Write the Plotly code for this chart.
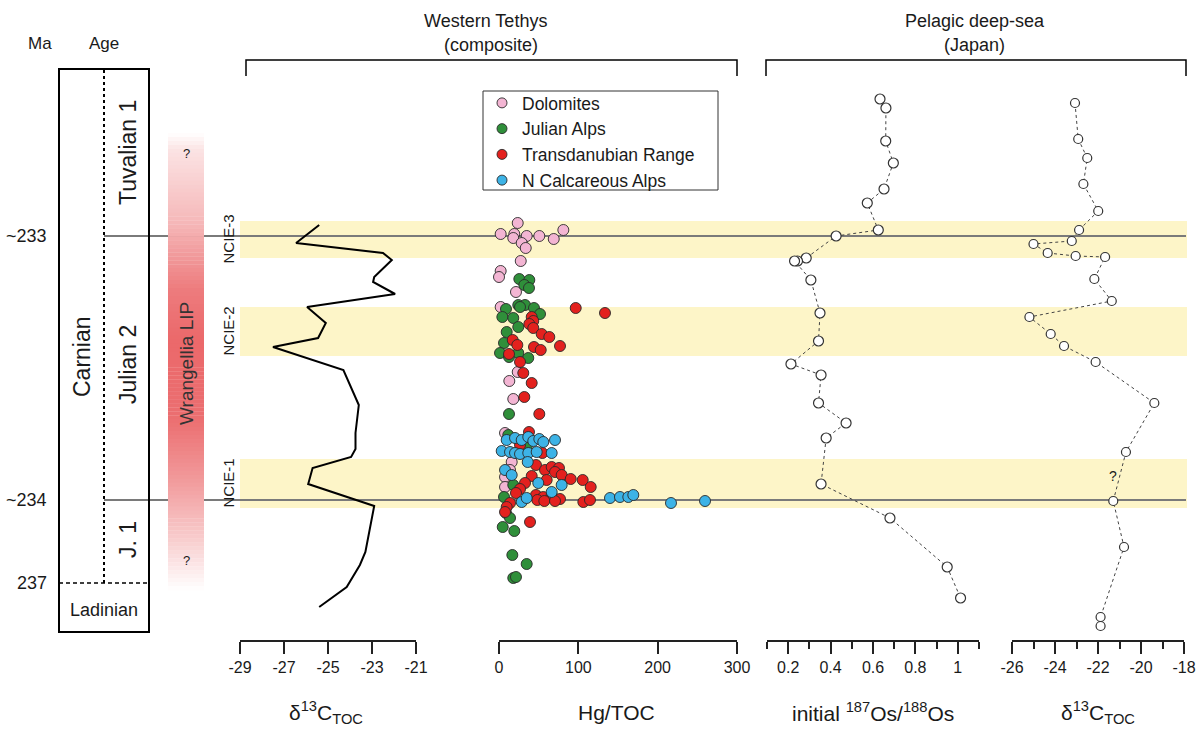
import plotly.graph_objects as go

W, H = 1204, 729

# ---------------- data ----------------
# common vertical scale: stratigraphic level (arbitrary units, 0 = base)
tethys_level = [415, 397, 387, 380, 363, 358, 346, 333, 317, 302, 293, 270, 235, 207,
                191, 183, 172, 156, 134, 88, 75, 53, 33]
tethys_d13c = [-25.4, -26.45, -22.5, -22.1, -22.9, -22.95, -21.95, -25.95, -25.1, -25.45,
               -27.5, -24.3, -23.6, -23.75, -23.75, -23.95, -25.7, -25.9, -22.9, -23.3,
               -23.55, -24.15, -25.4]

dolomites_hg = [23.6, 2.1, 19.3, 18.0, 34.9, 50.8, 81.1, 69.0, 28.6, 33.7, 27.4, 2.1, 0.0,
                21.4, 2.1, 23.6, 13.0, 18.0, 7.6, 16.0, 13.9, 7.6, 7.6]
dolomites_level = [417, 406, 406, 402, 404, 404, 410, 401, 397, 392, 379, 369, 363, 348,
                   333, 268, 259, 241, 207, 178, 170, 163, 153]

julian_hg = [25.6, 38.2, 31.9, 37.8, 24.3, 32.8, 26.5, 8.8, 44.1, 51.7, 4.2, 18.0, 24.3,
             9.7, 6.3, 1.3, 12.6, 24.3, 36.9, 12.6, 11.7, 34.9, 18.0, 6.3, 8.8, 13.9, 4.7,
             19.3, 16.8, 34.9, 18.0, 21.4]
julian_level = [361, 360, 355, 352, 335, 335, 333, 331, 332, 326, 323, 322, 313, 308, 297,
                287, 283, 287, 282, 226, 205, 193, 155, 143, 127, 122, 113, 109, 85, 76,
                62, 63]

transdanubian_hg = [96.7, 133.6, 41.2, 43.2, 38.2, 43.2, 53.8, 63.4, 76.9, 44.1, 52.6, 17.3,
                    23.1, 12.6, 26.5, 30.6, 41.2, 31.9, 50.8, 37.8, 26.5, 54.6, 46.6, 58.0,
                    66.4, 75.6, 70.6, 41.2, 60.1, 79.0, 90.4, 105.5, 115.6, 32.8, 26.5, 21.4,
                    46.6, 55.8, 66.4, 76.9, 48.3, 57.1, 70.6, 106.3, 114.7, 13.9, 9.7, 7.6,
                    39.1]
transdanubian_level = [332, 327, 323, 319, 316, 312, 306, 303, 294, 293, 290, 300, 295, 286,
                       278, 267, 257, 243, 226, 208, 195, 187, 175, 170, 173, 172, 168, 164,
                       160, 165, 161, 160, 153, 157, 151, 147, 145, 143, 145, 141, 140, 139,
                       139, 138, 140, 137, 133, 128, 118]

ncalc_hg = [9.7, 20.2, 28.6, 36.9, 43.2, 50.8, 55.8, 70.6, 3.4, 13.9, 20.2, 26.5, 36.9, 47.5,
            66.4, 36.2, 7.6, 16.0, 49.5, 79.0, 66.4, 28.6, 34.9, 139.9, 152.5, 163.0, 169.3,
            216.8, 259.7]
ncalc_level = [200, 202, 200, 203, 199, 201, 198, 200, 189, 188, 187, 186, 187, 188, 187, 178,
               170, 165, 157, 155, 148, 138, 142, 142, 143, 143, 145, 137, 139]

os_level = [541, 532, 499, 477, 451, 437, 410, 404, 382, 379, 379, 360, 327, 299, 276, 265,
            237, 217, 202, 156, 122, 73, 42]
os_ratio = [0.633, 0.661, 0.66, 0.696, 0.652, 0.573, 0.625, 0.426, 0.285, 0.244, 0.23, 0.307,
            0.35, 0.343, 0.213, 0.355, 0.343, 0.473, 0.379, 0.355, 0.68, 0.95, 1.013]

japan_level = [537, 501, 482, 456, 429, 410, 399, 396, 387, 384, 383, 361, 339, 323, 306, 294,
               278, 237, 188, 139, 93, 23, 14]
japan_d13c = [-23.07, -22.92, -22.5, -22.68, -21.99, -22.88, -23.22, -25.0, -24.34, -23.04,
              -21.67, -22.17, -21.36, -25.19, -24.2, -23.58, -22.11, -19.38, -20.7, -21.29,
              -20.79, -21.88, -21.88]

age_labels = ["~233", "~234", "237"]
age_levels = [404, 140, 57]

ncie_names = ["NCIE-3", "NCIE-2", "NCIE-1"]
ncie_top = [419, 333, 181]
ncie_base = [382, 284, 132]

stage_names = ["Tuvalian 1", "Julian 2", "J. 1"]
stage_centers = [487, 275, 100]

tethys_ticks = [-29, -27, -25, -23, -21]
hg_ticks = [0, 100, 200, 300]
os_ticks = [0.2, 0.4, 0.6, 0.8, 1.0]
os_ticktext = ["0.2", "0.4", "0.6", "0.8", "1"]
japan_ticks = [-26, -24, -22, -20, -18]

# ---------------- helpers (layout positions) ----------------
FONT = "Liberation Sans, Arial, sans-serif"
TXT = "#1a1a1a"


def fx(p):
    return p / W


def fy(p):
    return 1 - p / H


def hyphen(vals):
    return [str(v) for v in vals]


Y_RANGE = [-89, 640]
AXIS_POS = fy(641)

fig = go.Figure()

# Western Tethys d13C
fig.add_trace(go.Scatter(x=tethys_d13c, y=tethys_level, mode="lines",
                         line=dict(color="black", width=2), xaxis="x", yaxis="y",
                         showlegend=False, hoverinfo="skip"))

# Hg/TOC scatter
groups = [
    ("Dolomites", dolomites_hg, dolomites_level, "#f3b5d3"),
    ("Julian Alps", julian_hg, julian_level, "#2f8f3a"),
    ("Transdanubian Range", transdanubian_hg, transdanubian_level, "#e3211e"),
    ("N Calcareous Alps", ncalc_hg, ncalc_level, "#3db3e6"),
]
for name, xs, ys, col in groups:
    fig.add_trace(go.Scatter(x=xs, y=ys, mode="markers", name=name, xaxis="x2", yaxis="y",
                             cliponaxis=False, showlegend=False, legendgroup=name,
                             marker=dict(size=11, color=col, line=dict(color="#2a2a2a", width=0.9))))
# legend entries (smaller symbols, as in the reference legend)
for name, xs, ys, col in groups:
    fig.add_trace(go.Scatter(x=[None], y=[None], mode="markers", name=name, xaxis="x2",
                             yaxis="y", legendgroup=name, showlegend=True,
                             marker=dict(size=10, color=col, line=dict(color="#2a2a2a", width=0.9))))

# Os isotopes
fig.add_trace(go.Scatter(x=os_ratio, y=os_level, mode="lines+markers", xaxis="x3", yaxis="y",
                         cliponaxis=False, showlegend=False,
                         line=dict(color="#444", width=1, dash="3px,3px"),
                         marker=dict(size=10, color="white", line=dict(color="#333", width=1.2))))

# Japan d13C
fig.add_trace(go.Scatter(x=japan_d13c, y=japan_level, mode="lines+markers", xaxis="x4", yaxis="y",
                         cliponaxis=False, showlegend=False,
                         line=dict(color="#444", width=1, dash="3px,3px"),
                         marker=dict(size=9, color="white", line=dict(color="#333", width=1.2))))

axis_common = dict(anchor="free", position=AXIS_POS, showline=True, linecolor="#222",
                   linewidth=1.5, ticks="outside", ticklen=12, tickwidth=1.5, tickcolor="#222",
                   showgrid=False, zeroline=False, automargin=False,
                   tickfont=dict(family=FONT, size=16, color=TXT))

fig.update_layout(
    template="none",
    width=W, height=H, autosize=False,
    margin=dict(l=0, r=0, t=0, b=0, pad=0, autoexpand=False),
    paper_bgcolor="white", plot_bgcolor="rgba(0,0,0,0)",
    font=dict(family=FONT, color=TXT),
    yaxis=dict(domain=[0, 1], range=Y_RANGE, visible=False, fixedrange=True, automargin=False),
    xaxis=dict(domain=[fx(240), fx(416)], range=[-29, -21], tickvals=tethys_ticks,
               ticktext=hyphen(tethys_ticks), **axis_common),
    xaxis2=dict(domain=[fx(499), fx(737)], range=[0, 300], tickvals=hg_ticks,
                ticktext=hyphen(hg_ticks), **axis_common),
    xaxis3=dict(domain=[fx(767), fx(979)], range=[0.1, 1.1], tickvals=os_ticks,
                ticktext=os_ticktext,
                minor=dict(tickvals=[0.1, 0.3, 0.5, 0.7, 0.9, 1.1], ticklen=7, tickwidth=1.5,
                           tickcolor="#222", ticks="outside", showgrid=False),
                **axis_common),
    xaxis4=dict(domain=[fx(1012), fx(1184)], range=[-26, -18], tickvals=japan_ticks,
                ticktext=hyphen(japan_ticks),
                minor=dict(tickvals=[-25, -23, -21, -19], ticklen=7, tickwidth=1.5,
                           tickcolor="#222", ticks="outside", showgrid=False),
                **axis_common),
    legend=dict(x=fx(482), y=fy(85), xanchor="left", yanchor="top",
                bgcolor="rgba(0,0,0,0)", borderwidth=0, tracegroupgap=0,
                font=dict(family=FONT, size=17.5, color=TXT), itemsizing="trace"),
    showlegend=True,
)

shapes = []
# NCIE bands
for top, base in zip(ncie_top, ncie_base):
    shapes.append(dict(type="rect", xref="paper", yref="y", x0=fx(240), x1=fx(1187),
                       y0=base, y1=top, fillcolor="#fdf5c8", line=dict(width=0), layer="below"))
# age lines (~233, ~234)
for lv in age_levels[:2]:
    shapes.append(dict(type="line", xref="paper", yref="y", x0=fx(104), x1=fx(1186),
                       y0=lv, y1=lv, line=dict(color="#7a7a7a", width=1.8), layer="below"))


# Wrangellia LIP gradient bar
def lip_intensity(p):
    stops = [(133, 0.0), (150, 0.18), (220, 0.45), (290, 0.85), (340, 0.97), (420, 0.93),
             (480, 0.65), (540, 0.32), (590, 0.0)]
    for (a, ia), (b, ib) in zip(stops[:-1], stops[1:]):
        if a <= p <= b:
            return ia + (ib - ia) * (p - a) / (b - a)
    return 0.0


base_rgb = (234, 100, 102)
n_sl = 115
top_px, bot_px = 133, 590
step = (bot_px - top_px) / n_sl
for i in range(n_sl):
    p0 = top_px + i * step
    t = lip_intensity(p0 + step / 2)
    r, g, b = [round(255 + (c - 255) * t) for c in base_rgb]
    shapes.append(dict(type="rect", xref="paper", yref="paper", x0=fx(168), x1=fx(204),
                       y0=fy(p0 + step + 0.4), y1=fy(p0), fillcolor=f"rgb({r},{g},{b})",
                       line=dict(width=0), layer="below"))

# Age column box
shapes.append(dict(type="rect", xref="paper", yref="paper", x0=fx(59), x1=fx(149),
                   y0=fy(632), y1=fy(69), line=dict(color="black", width=2)))
shapes.append(dict(type="line", xref="paper", yref="paper", x0=fx(104), x1=fx(104),
                   y0=fy(583), y1=fy(69), line=dict(color="black", width=2, dash="dot")))
shapes.append(dict(type="line", xref="paper", yref="y", x0=fx(59), x1=fx(149),
                   y0=age_levels[2], y1=age_levels[2],
                   line=dict(color="black", width=1.5, dash="4px,3px")))

# header brackets
for x0, x1 in [(246, 737), (766, 1186)]:
    shapes.append(dict(type="path", xref="paper", yref="paper",
                       path=f"M {fx(x0)} {fy(76)} L {fx(x0)} {fy(60)} L {fx(x1)} {fy(60)} L {fx(x1)} {fy(76)}",
                       line=dict(color="black", width=1.5)))

# legend box
shapes.append(dict(type="rect", xref="paper", yref="paper", x0=fx(483), x1=fx(718),
                   y0=fy(190), y1=fy(91), line=dict(color="#333", width=1)))

fig.update_layout(shapes=shapes)

ann = []


def text(x, y, s, size, yref="paper", angle=0, color=TXT, xanchor="center"):
    ann.append(dict(x=x, y=y, xref="paper", yref=yref, text=s, showarrow=False,
                    textangle=angle, xanchor=xanchor, yanchor="middle",
                    font=dict(family=FONT, size=size, color=color)))


text(fx(40), fy(43), "Ma", 17)
text(fx(104), fy(43), "Age", 17)
for lab, lv in zip(age_labels, age_levels):
    text(fx(49), lv, lab, 18, yref="y", xanchor="right")
text(fx(82), fy(357), "Carnian", 23, angle=-90)
for nm, c in zip(stage_names, stage_centers):
    text(fx(128), c, nm, 23, yref="y", angle=-90)
text(fx(104), fy(610), "Ladinian", 18)
text(fx(186), fy(364), "Wrangellia LIP", 19, angle=-90, color="#333")
text(fx(186), fy(153), "?", 13)
text(fx(186), fy(560), "?", 13)
for nm, t, b in zip(ncie_names, ncie_top, ncie_base):
    text(fx(228), (t + b) / 2, nm, 15, yref="y", angle=-90)

text(fx(485), fy(21), "Western Tethys", 18)
text(fx(491), fy(45), "(composite)", 18)
text(fx(975), fy(21), "Pelagic deep-sea", 18)
text(fx(975), fy(45), "(Japan)", 18)

text(fx(326), fy(712), "δ<sup>13</sup>C<sub>TOC</sub>", 21)
text(fx(616), fy(712), "Hg/TOC", 21)
text(fx(873), fy(712), "initial <sup>187</sup>Os/<sup>188</sup>Os", 21)
text(fx(1098), fy(712), "δ<sup>13</sup>C<sub>TOC</sub>", 21)

# '?' on Japan curve
ann.append(dict(x=-21.3, y=164, xref="x4", yref="y", text="?", showarrow=False,
                font=dict(family=FONT, size=14, color=TXT)))

fig.update_layout(annotations=ann)

fig.write_html(
    "out.html",
    config={"responsive": False, "displayModeBar": False},
    post_script="document.body.style.margin='0';document.body.style.overflow='hidden';",
)
